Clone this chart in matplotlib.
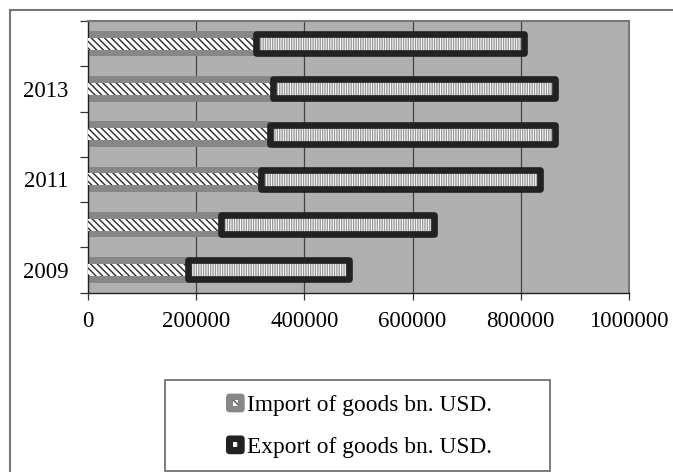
import matplotlib
matplotlib.use("Agg")
import matplotlib.pyplot as plt
from matplotlib.patches import Rectangle, FancyBboxPatch, Patch
from matplotlib.legend_handler import HandlerBase
from matplotlib.lines import Line2D
import numpy as np

years = ["2009", "2010", "2011", "2012", "2013", "2014"]
imports = [185000, 246000, 320000, 337000, 342000, 310000]
exports = [297000, 393000, 515000, 527000, 522000, 496000]
xticks = [0, 200000, 400000, 600000, 800000, 1000000]
labels = ["Import of goods bn. USD.", "Export of goods bn. USD."]

plt.rcParams['font.family'] = ['Liberation Serif', 'DejaVu Serif']
plt.rcParams['hatch.linewidth'] = 1.0

W, H = 673, 472
fig = plt.figure(figsize=(W / 100, H / 100), dpi=100)
ax = fig.add_axes([88 / W, 1 - 292.5 / H, (629 - 88) / W, (292.5 - 21) / H])
ax.set_facecolor('#b0b0b0')

y = np.arange(len(years))

# import: gray band + hatched inner
ax.barh(y, imports, height=0.56, color='#878787', edgecolor='none', zorder=2)
ax.barh(y, imports, height=0.27, facecolor='white', edgecolor='#2a2a2a',
        linewidth=0, hatch='\\' * 5, zorder=3)
# export: hatched inner + thick rounded frame
ax.barh(y, exports, left=imports, height=0.42, facecolor='white',
        edgecolor='#9a9a9a', linewidth=0, hatch='|' * 7, zorder=4)
ax.barh(y, exports, left=imports, height=0.42, fill=False,
        edgecolor='#222222', linewidth=4.8, joinstyle='round', zorder=5)

ax.set_xlim(0, 1000000)
ax.set_ylim(-0.5, len(years) - 0.5)
ax.set_xticks(xticks)
ax.set_xticklabels([str(v) for v in xticks], fontsize=16.5)
ax.grid(axis='x', color='#444444', linewidth=0.9)
ax.set_axisbelow(True)

ax.set_yticks(np.arange(-0.5, len(years), 1.0))
ax.set_yticklabels([])
ax.set_yticks(y, minor=True)
ax.set_yticklabels([yr if i % 2 == 0 else '' for i, yr in enumerate(years)],
                   minor=True, fontsize=16.5)
ax.tick_params(axis='y', which='major', direction='out', length=6, width=0.9, color='#333333')
ax.tick_params(axis='y', which='minor', length=0, pad=14)
ax.tick_params(axis='x', direction='out', length=5, width=0.9, color='#333333', pad=8)

for side in ['left', 'bottom']:
    ax.spines[side].set_color('#222222')
    ax.spines[side].set_linewidth(1.0)
for side in ['top', 'right']:
    ax.spines[side].set_color('#777777')
    ax.spines[side].set_linewidth(1.5)

# outer chart border (cropped at right/bottom)
fig.add_artist(Line2D([10 / W, 1.0], [1 - 10 / H, 1 - 10 / H], color='#777777', lw=1.5))
fig.add_artist(Line2D([10 / W, 10 / W], [0, 1 - 10 / H], color='#777777', lw=1.5))

# legend frame
fig.add_artist(Rectangle((165 / W, 1 / H), 385 / W, 91 / H,
                         transform=fig.transFigure, fill=False,
                         edgecolor='#666666', lw=1.2))


class SquareHandler(HandlerBase):
    def create_artists(self, legend, orig_handle, xd, yd, w, h, fs, trans):
        s = min(w, h) * 1.05
        x0 = -xd + (w - s) / 2
        y0 = -yd + (h - s) / 2
        outer = FancyBboxPatch((x0, y0), s, s,
                               boxstyle="round,pad=0,rounding_size=%f" % (s * 0.2),
                               facecolor=orig_handle.get_facecolor(),
                               edgecolor='none', transform=trans)
        inner = Rectangle((x0 + s * 0.36, y0 + s * 0.36), s * 0.28, s * 0.28,
                          facecolor='white', edgecolor='#555555', linewidth=0,
                          hatch=orig_handle.get_hatch(), transform=trans)
        return [outer, inner]


handles = [Patch(facecolor='#878787', hatch='\\\\'),
           Patch(facecolor='#222222', hatch='||')]
fig.legend(handles, labels, handler_map={Patch: SquareHandler()},
           loc='center', bbox_to_anchor=(359 / W, 1 - 426 / H),
           frameon=False, fontsize=16.8, labelspacing=0.85,
           handlelength=0.8, handleheight=0.8, handletextpad=0.1)

fig.savefig('out.png', dpi=100)
